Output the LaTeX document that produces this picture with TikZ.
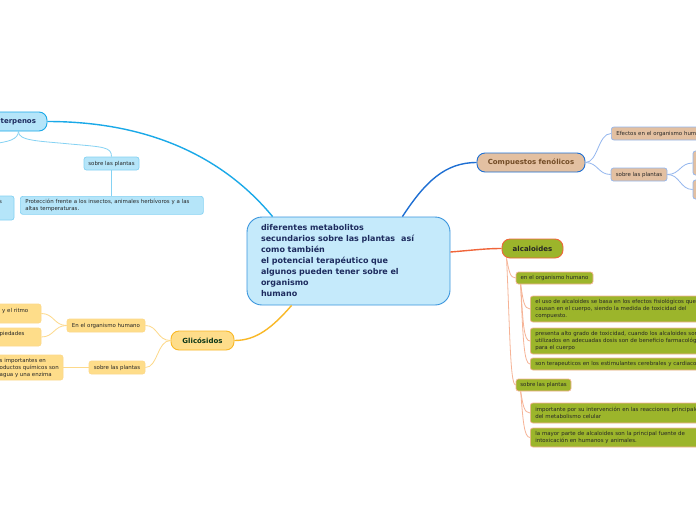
\documentclass[tikz,border=0pt]{standalone}
\usepackage{fontspec}
\setmainfont{DejaVu Sans}
\usetikzlibrary{calc}
\newcommand{\smallf}{\fontsize{5.45}{7.3}\selectfont}
\newcommand{\topicf}{\fontsize{7}{8}\selectfont\bfseries}
\newcommand{\centralf}{\fontsize{8}{11}\selectfont\bfseries}
\definecolor{cenF}{HTML}{C5EAFB}
\definecolor{cenB}{HTML}{3A95DD}
\definecolor{cenT}{HTML}{1D2B5E}
\definecolor{terF}{HTML}{B5E5F9}
\definecolor{terB}{HTML}{1AA9E8}
\definecolor{terL}{HTML}{85D2F3}
\definecolor{gliF}{HTML}{FEDD8A}
\definecolor{gliB}{HTML}{F9B826}
\definecolor{gliL}{HTML}{FDD98A}
\definecolor{comF}{HTML}{E3C0A1}
\definecolor{comB}{HTML}{1E6FD3}
\definecolor{comL}{HTML}{93B6EE}
\definecolor{alcF}{HTML}{9CB52B}
\definecolor{alcB}{HTML}{F0653A}
\definecolor{alcL}{HTML}{F6B396}
\definecolor{txt}{HTML}{262626}
\tikzset{
  central/.style={draw=cenB, fill=cenF, line width=0.9pt, rounded corners=15pt,
    font=\centralf, text=cenT, align=left, text width=175pt, inner xsep=14pt,
    minimum width=203pt, minimum height=88pt},
  topic/.style={line width=0.9pt, rounded corners=8pt, font=\topicf, inner sep=0pt},
  sbox/.style={line width=0.7pt, rounded corners=2.5pt, font=\smallf, text=txt, inner sep=0pt},
  lbox/.style={sbox, anchor=west, align=left, text width=200pt, inner xsep=5pt},
  stext/.style={font=\smallf, text=txt, inner sep=0pt, anchor=west, align=left},
  mainline/.style={line width=1.4pt},
  subline/.style={line width=0.8pt}
}
\begin{document}
\begin{tikzpicture}[x=1pt,y=-1pt]
\useasboundingbox (0,0) rectangle (696,520);
\clip (0,0) rectangle (696,520);
\fill[white] (0,0) rectangle (696,520);

% ---------- central
\node[central] (c) at (348.5,261) {diferentes metabolitos\\secundarios sobre las plantas\hspace{6pt}así\\como también\\el potencial terapéutico que\\algunos pueden tener sobre el\\organismo\\humano};

% ---------- Terpenos
\node[topic, fill=terF, draw=terB, minimum width=107pt, minimum height=19pt] (terp) at (-6.5,121.5) {};
\node[font=\topicf, text=cenT, inner sep=0pt, anchor=west] (terpT) at (0.5,121.5) {terpenos};
\node[sbox, fill=terF, draw=terL, minimum width=55pt, minimum height=13pt] (tsp) at (111.5,163.5) {sobre las plantas};
\node[sbox, fill=terF, draw=terL, anchor=north west, align=left, text width=173pt, inner xsep=5pt, minimum height=18pt] (tprot) at (20,196) {Protección frente a los insectos, animales herbívoros y a las\\altas temperaturas.};
\node[sbox, fill=terF, draw=terL, minimum width=40pt, minimum height=24pt] (tleft) at (-6,208) {};
\node[stext] (tleftT) at (-1,202.5) {s};

\draw[mainline, terB] (terp.east) .. controls (160,121.5) and (230,165) .. ($(c.north west)+(26,0)$);
\draw[subline, terL] ($(terp.south east)+(-29,0)$) .. controls (18,141) and (40,141) .. (70,144) .. controls (104,147) and (111.5,147) .. (tsp.north);
\draw[subline, terL] ($(terp.south east)+(-29,0)$) .. controls (18,139) and (10,142) .. (-10,144);
\draw[subline, terL] (tsp.south) -- (tsp.south |- tprot.north);

% ---------- Glicosidos
\node[topic, fill=gliF, draw=gliB, text=cenT!60!green!40!black, minimum width=63pt, minimum height=19pt] (gli) at (202.5,340.5) {Glicósidos};
\node[sbox, fill=gliF, draw=gliL, minimum width=78pt, minimum height=13pt] (gorg) at (106,325.5) {En el organismo humano};
\node[sbox, fill=gliF, draw=gliL, minimum width=56pt, minimum height=13pt] (gsp) at (117,367.5) {sobre las plantas};
\node[sbox, fill=gliF, draw=gliL, minimum width=81pt, minimum height=19pt] (gl1) at (0.5,313.5) {};
\node[stext] (gl1T) at (2,311) {y el ritmo};
\node[sbox, fill=gliF, draw=gliL, minimum width=81pt, minimum height=18pt] (gl2) at (0.5,337) {};
\node[stext] (gl2T) at (-0.5,334) {piedades};
\node[sbox, fill=gliF, draw=gliL, minimum width=103pt, minimum height=25pt] (gl3) at (11.5,367.5) {};
\node[stext] (gl3T) at (-0.5,368) {s importantes en\\oductos químicos son\\agua y una enzima};

\draw[mainline, gliB] ($(c.south west)+(45,0)$) .. controls (272,328) and (256,340.5) .. (gli.east);
\draw[subline, gliL] (gli.west) .. controls (157,340.5) and (158,325.5) .. (gorg.east);
\draw[subline, gliL] (gli.west) .. controls (157,340.5) and (158,367.5) .. (gsp.east);
\draw[subline, gliL] (gorg.west) .. controls (54,325.5) and (54,313.5) .. (gl1.east);
\draw[subline, gliL] (gorg.west) .. controls (54,325.5) and (54,337) .. (gl2.east);
\draw[subline, gliL] (gsp.west) -- (gl3.east);

% ---------- Compuestos fenolicos
\node[topic, fill=comF, draw=comB, text=brown!60!black, minimum width=108pt, minimum height=19pt] (comp) at (531,162.5) {Compuestos fenólicos};
\node[lbox, fill=comF, draw=comL, text width=120pt, minimum height=13pt] (ceff) at (611,133.5) {Efectos en el organismo humano};
\node[sbox, fill=comF, draw=comL, minimum width=56pt, minimum height=13pt] (csp) at (639,174.5) {sobre las plantas};
\node[sbox, fill=comF, draw=comL, minimum width=37pt, minimum height=24pt] (c1) at (711.5,163) {};
\node[sbox, fill=comF, draw=comL, minimum width=37pt, minimum height=19pt] (c2) at (711.5,189.5) {};

\draw[mainline, comB] ($(c.north east)+(-48,0)$) .. controls (425,182) and (445,162.5) .. (comp.west);
\draw[subline, comL] (comp.east) .. controls (598,162.5) and (598,133.5) .. (ceff.west);
\draw[subline, comL] (comp.east) .. controls (598,162.5) and (598,174.5) .. (csp.west);
\draw[subline, comL] (csp.east) .. controls (680,174.5) and (680,163) .. (c1.west);
\draw[subline, comL] (csp.east) .. controls (680,174.5) and (680,189.5) .. (c2.west);

% ---------- Alcaloides
\node[topic, fill=alcF, draw=alcB, text=black!85, minimum width=61pt, minimum height=19pt] (alc) at (532.5,248.5) {alcaloides};
\node[sbox, fill=alcF, draw=alcL, text=black!85, minimum width=77pt, minimum height=12pt] (aorg) at (554.5,278) {en el organismo humano};
\node[sbox, fill=alcF, draw=alcL, text=black!85, minimum width=55pt, minimum height=12pt] (asp) at (543.5,385) {sobre las plantas};
\node[lbox, fill=alcF, draw=alcL, text=black!85, minimum height=26pt] (a1) at (530,309) {el uso de alcaloides se basa en los efectos fisiológicos que\\causan en el cuerpo, siendo la medida de toxicidad del\\compuesto.};
\node[lbox, fill=alcF, draw=alcL, text=black!85, minimum height=26pt] (a2) at (530,341) {presenta alto grado de toxicidad, cuando los alcaloides son\\utilizados en adecuadas dosis son de beneficio farmacológico\\para el cuerpo};
\node[lbox, fill=alcF, draw=alcL, text=black!85, minimum height=12pt] (a3) at (530,364) {son terapeuticos en los estimulantes cerebrales y cardiacos};
\node[lbox, fill=alcF, draw=alcL, text=black!85, minimum height=20pt] (b1) at (530,413) {importante por su intervención en las reacciones principales\\del metabolismo celular};
\node[lbox, fill=alcF, draw=alcL, text=black!85, minimum height=19pt] (b2) at (530,437.5) {la mayor parte de alcaloides son la principal fuente de\\intoxicación en humanos y animales.};

\draw[mainline, alcB] ($(c.east)+(0,-9)$) .. controls (475,250) and (485,248.5) .. (alc.west);
\draw[subline, alcL] ($(alc.south west)+(5,0)$) .. controls (509,271) and (510,278) .. (aorg.west);
\draw[subline, alcL] ($(alc.south west)+(5,0)$) .. controls (510,330) and (510,385) .. (asp.west);
\draw[subline, alcL] ($(aorg.south west)+(5,0)$) .. controls (523,300) and (524,309) .. (a1.west);
\draw[subline, alcL] ($(aorg.south west)+(5,0)$) .. controls (523,325) and (524,341) .. (a2.west);
\draw[subline, alcL] ($(aorg.south west)+(5,0)$) .. controls (523,340) and (524,364) .. (a3.west);
\draw[subline, alcL] ($(asp.south west)+(5,0)$) .. controls (523,405) and (524,413) .. (b1.west);
\draw[subline, alcL] ($(asp.south west)+(5,0)$) .. controls (523,420) and (524,437.5) .. (b2.west);
\end{tikzpicture}
\end{document}
